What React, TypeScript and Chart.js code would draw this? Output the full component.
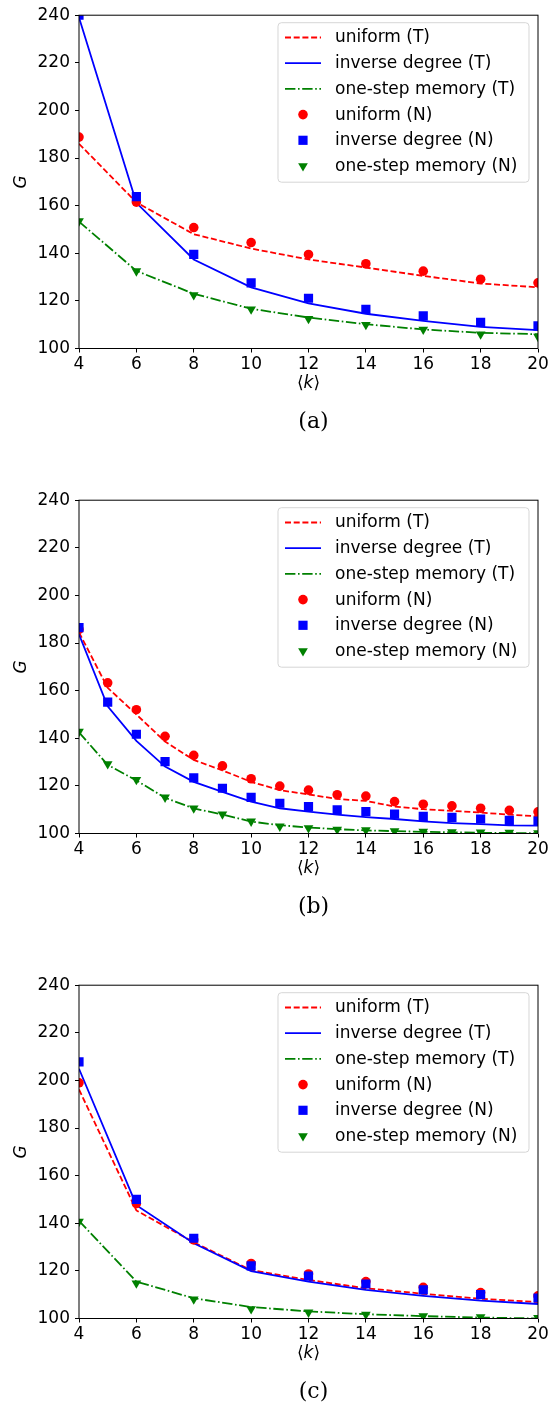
import React, { useEffect, useRef } from "react";
import { Chart, registerables } from "chart.js";

Chart.register(...registerables);

// ---------- data ----------
const kEven = [4, 6, 8, 10, 12, 14, 16, 18, 20];
const kAll = [4, 5, 6, 7, 8, 9, 10, 11, 12, 13, 14, 15, 16, 17, 18, 19, 20];

const seriesLabels = [
  "uniform (T)",
  "inverse degree (T)",
  "one-step memory (T)",
  "uniform (N)",
  "inverse degree (N)",
  "one-step memory (N)",
];

// panel (a)
const uniformT_a = [186, 161.4, 148, 142, 137.4, 134, 130.5, 127.3, 125.7];
const inverseT_a = [239, 161.2, 137.4, 125.7, 119, 114.6, 111.6, 109.1, 107.7];
const memoryT_a = [153.3, 132.6, 123, 116.7, 113, 110.2, 108, 106.6, 106];
const uniformN_a = [188.8, 161.5, 150.8, 144.5, 139.5, 135.6, 132.5, 129.1, 127.6];
const inverseN_a = [240, 163.8, 139.5, 127.6, 121.1, 116.4, 113.7, 111, 109.5];
const memoryN_a = [153.5, 132.5, 122.5, 116.5, 112.5, 110, 108, 106, 105];

// panel (b)
const uniformT_b = [184.5, 161.2, 150, 138.6, 130.9, 126.5, 121.7, 118.2, 116.4, 114.5, 113.7, 111.3, 110.2, 109.5, 108.8, 107.9, 107.2];
const inverseT_b = [183.7, 153.4, 138.9, 128.1, 121.7, 117.5, 113.4, 110.6, 109.2, 107.9, 106.9, 106.1, 105.1, 104.4, 103.9, 103.4, 103.3];
const memoryT_b = [142.5, 128.8, 122.3, 115, 110.5, 108, 105, 103.5, 102.5, 101.8, 101.3, 101, 100.7, 100.5, 100.3, 100.2, 100.1];
const uniformN_b = [185.7, 163.3, 152, 140.8, 132.8, 128.4, 123, 119.9, 118.2, 116.3, 115.7, 113.4, 112.3, 111.6, 110.6, 109.7, 109.1];
const inverseN_b = [186.5, 155.2, 141.7, 130.2, 123.4, 119, 115.2, 112.7, 111.3, 109.9, 109.2, 108.1, 107.2, 106.8, 106.1, 105.5, 105.2];
const memoryN_b = [142.8, 129.2, 122.6, 115.2, 110.6, 108.1, 105.1, 103, 102.3, 101.7, 101.4, 101, 100.8, 100.6, 100.5, 100.4, 100.2];

// panel (c)
const uniformT_c = [196.2, 145.4, 132, 120.3, 116.2, 112.7, 110.4, 108.3, 106.9];
const inverseT_c = [204.9, 147.6, 131.6, 119.9, 115.5, 112, 109.5, 107.5, 106.1];
const memoryT_c = [141, 115.5, 108.5, 104.8, 103, 101.8, 101, 100.4, 100];
const uniformN_c = [199, 148.3, 133, 123.1, 118.7, 115.5, 113.1, 110.9, 109.5];
const inverseN_c = [207.8, 150, 133.7, 122.1, 117.8, 114.5, 112, 110, 108.6];
const memoryN_c = [140.7, 114.8, 108.1, 104, 102.6, 101.7, 101, 100.6, 100.3];

const captions = ["(a)", "(b)", "(c)"];
const xTitle = ["⟨", "k", "⟩"];
const yTitle = "G";
const xMin = 4, xMax = 20, xStep = 2;
const yMin = 100, yMax = 240, yStep = 20;

// ---------- styles ----------
const RED = "#ff0000";
const BLUE = "#0000ff";
const GREEN = "#008000";
const FONT = "'DejaVu Sans'";
const FS = 17;
const PANEL_H = 485;
const LW = 1.8;
const DASH = [6, 2.7];
const DASHDOT = [10.4, 2.6, 1.6, 2.6];

const lineStyles = [
  { color: RED, dash: DASH },
  { color: BLUE, dash: [] as number[] },
  { color: GREEN, dash: DASHDOT },
];
const markerStyles = [
  { color: RED, style: "circle", r: 4.8, rot: 0 },
  { color: BLUE, style: "rect", r: 6.5, rot: 0 },
  { color: GREEN, style: "triangle", r: 5.6, rot: 180 },
];

const panels = [
  { k: kEven, T: [uniformT_a, inverseT_a, memoryT_a], N: [uniformN_a, inverseN_a, memoryN_a] },
  { k: kAll, T: [uniformT_b, inverseT_b, memoryT_b], N: [uniformN_b, inverseN_b, memoryN_b] },
  { k: kEven, T: [uniformT_c, inverseT_c, memoryT_c], N: [uniformN_c, inverseN_c, memoryN_c] },
];

function pts(k: number[], v: number[]) {
  return k.map((x, i) => ({ x, y: v[i] }));
}

function drawMarker(ctx: CanvasRenderingContext2D, m: any, x: number, y: number) {
  ctx.save();
  ctx.fillStyle = m.color;
  ctx.beginPath();
  if (m.style === "circle") {
    ctx.arc(x, y, m.r, 0, Math.PI * 2);
  } else if (m.style === "rect") {
    const s = Math.SQRT1_2 * m.r;
    ctx.rect(x - s, y - s, 2 * s, 2 * s);
  } else {
    const r = m.r;
    ctx.moveTo(x, y + r);
    ctx.lineTo(x + r * Math.sin((2 * Math.PI) / 3), y - r * 0.5);
    ctx.lineTo(x - r * Math.sin((2 * Math.PI) / 3), y - r * 0.5);
    ctx.closePath();
  }
  ctx.fill();
  ctx.restore();
}

function makePlugin(caption: string) {
  return {
    id: "mplDecor",
    afterDatasetsDraw(chart: any) {
      const ctx: CanvasRenderingContext2D = chart.ctx;
      const a = chart.chartArea;
      ctx.save();
      // frame
      ctx.strokeStyle = "#000";
      ctx.lineWidth = 1;
      ctx.strokeRect(a.left, a.top, a.right - a.left, a.bottom - a.top);

      // legend
      const bx = a.right - 260, by = a.top + 7.5, bw = 251, bh = 159.5, rr = 3.5;
      ctx.beginPath();
      ctx.moveTo(bx + rr, by);
      ctx.lineTo(bx + bw - rr, by);
      ctx.arcTo(bx + bw, by, bx + bw, by + rr, rr);
      ctx.lineTo(bx + bw, by + bh - rr);
      ctx.arcTo(bx + bw, by + bh, bx + bw - rr, by + bh, rr);
      ctx.lineTo(bx + rr, by + bh);
      ctx.arcTo(bx, by + bh, bx, by + bh - rr, rr);
      ctx.lineTo(bx, by + rr);
      ctx.arcTo(bx, by, bx + rr, by, rr);
      ctx.closePath();
      ctx.fillStyle = "rgba(255,255,255,0.8)";
      ctx.fill();
      ctx.strokeStyle = "rgba(204,204,204,0.8)";
      ctx.lineWidth = 1;
      ctx.stroke();

      ctx.font = `${FS}px ${FONT}`;
      ctx.textBaseline = "middle";
      ctx.textAlign = "left";
      seriesLabels.forEach((lab, i) => {
        const y = a.top + 22.3 + i * 25.7;
        if (i < 3) {
          const ls = lineStyles[i];
          ctx.save();
          ctx.strokeStyle = ls.color;
          ctx.lineWidth = LW;
          ctx.setLineDash(ls.dash);
          ctx.beginPath();
          ctx.moveTo(a.right - 253, y);
          ctx.lineTo(a.right - 217, y);
          ctx.stroke();
          ctx.restore();
        } else {
          drawMarker(ctx, markerStyles[i - 3], a.right - 235, y);
        }
        ctx.fillStyle = "#000";
        ctx.fillText(lab, a.right - 203, y + 0.5);
      });
      ctx.restore();
    },
    afterDraw(chart: any) {
      const ctx: CanvasRenderingContext2D = chart.ctx;
      const a = chart.chartArea;
      ctx.save();
      ctx.fillStyle = "#000";
      // y title
      ctx.save();
      ctx.translate(22, (a.top + a.bottom) / 2);
      ctx.rotate(-Math.PI / 2);
      ctx.font = `italic ${FS}px ${FONT}`;
      ctx.textAlign = "center";
      ctx.textBaseline = "middle";
      ctx.fillText(yTitle, 0, 0);
      ctx.restore();
      // x title  ⟨k⟩
      const cx = (a.left + a.right) / 2;
      const ty = a.bottom + 35.5;
      ctx.textBaseline = "middle";
      ctx.textAlign = "left";
      const fN = `${FS}px ${FONT}`;
      const fI = `italic ${FS}px ${FONT}`;
      ctx.font = fN;
      const w0 = ctx.measureText(xTitle[0]).width;
      const w2 = ctx.measureText(xTitle[2]).width;
      ctx.font = fI;
      const w1 = ctx.measureText(xTitle[1]).width;
      let x = cx - (w0 + w1 + w2) / 2;
      ctx.font = fN;
      ctx.fillText(xTitle[0], x, ty);
      x += w0;
      ctx.font = fI;
      ctx.fillText(xTitle[1], x, ty);
      x += w1;
      ctx.font = fN;
      ctx.fillText(xTitle[2], x, ty);
      // caption
      ctx.font = `22px 'DejaVu Serif'`;
      ctx.textAlign = "center";
      ctx.fillText(caption, 313.5, a.bottom + 73.5);
      ctx.restore();
    },
  };
}

function Panel({ idx }: { idx: number }) {
  const ref = useRef<HTMLCanvasElement | null>(null);
  useEffect(() => {
    const p = panels[idx];
    const datasets: any[] = [];
    p.T.forEach((v, i) => {
      datasets.push({
        label: seriesLabels[i],
        data: pts(p.k, v),
        showLine: true,
        borderColor: lineStyles[i].color,
        backgroundColor: lineStyles[i].color,
        borderWidth: LW,
        borderDash: lineStyles[i].dash,
        pointRadius: 0,
        tension: 0,
        clip: 0,
        order: 6 - i,
      });
    });
    p.N.forEach((v, i) => {
      const m = markerStyles[i];
      datasets.push({
        label: seriesLabels[i + 3],
        data: pts(p.k, v),
        showLine: false,
        backgroundColor: m.color,
        borderColor: m.color,
        borderWidth: 0,
        pointStyle: m.style,
        pointRadius: m.r,
        rotation: m.rot,
        clip: 0,
        order: 3 - i,
      });
    });
    const chart = new Chart(ref.current as HTMLCanvasElement, {
      type: "scatter",
      data: { datasets },
      options: {
        animation: false,
        responsive: false,
        devicePixelRatio: 1,
        events: [],
        layout: { padding: { left: 0, right: 22, top: 11, bottom: 0 } },
        plugins: { legend: { display: false }, tooltip: { enabled: false } },
        scales: {
          x: {
            type: "linear",
            min: xMin,
            max: xMax,
            afterFit: (s: any) => {
              s.height = PANEL_H - 348.5;
            },
            ticks: { stepSize: xStep, color: "#000", font: { family: FONT, size: FS }, padding: 1.5, maxRotation: 0 },
            grid: { display: true, drawOnChartArea: false, drawTicks: true, tickLength: 4, color: "#000", lineWidth: 1 },
            border: { display: false },
          },
          y: {
            type: "linear",
            min: yMin,
            max: yMax,
            afterFit: (s: any) => {
              s.width = 79;
            },
            ticks: { stepSize: yStep, color: "#000", font: { family: FONT, size: FS }, padding: 5 },
            grid: { display: true, drawOnChartArea: false, drawTicks: true, tickLength: 4, color: "#000", lineWidth: 1 },
            border: { display: false },
          },
        },
      },
      plugins: [makePlugin(captions[idx])],
    } as any);
    return () => chart.destroy();
  }, [idx]);
  return (
    <canvas
      ref={ref}
      width={560}
      height={PANEL_H}
      style={{ position: "absolute", left: 0, top: idx * PANEL_H, width: 560, height: PANEL_H, display: "block" }}
    />
  );
}

export default function App() {
  return (
    <div style={{ position: "absolute", left: 0, top: 0, width: 560, height: 1406, background: "#fff" }}>
      <Panel idx={0} />
      <Panel idx={1} />
      <Panel idx={2} />
    </div>
  );
}
